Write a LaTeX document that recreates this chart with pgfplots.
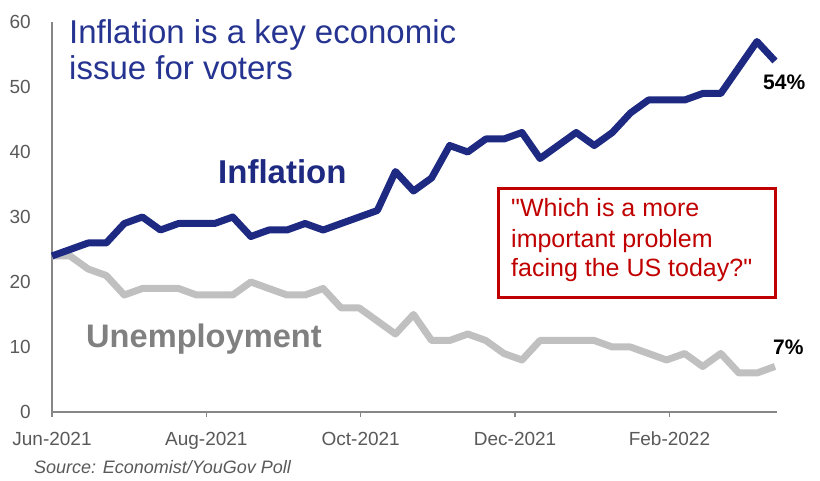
\documentclass[border=0pt]{standalone}
\usepackage{fontspec}
\setmainfont{Liberation Sans}[Ligatures=TeXOff]
\usepackage{pgfplots}
\pgfplotsset{compat=1.18}
\definecolor{navy}{RGB}{30,42,130}
\definecolor{titlenavy}{RGB}{38,52,145}
\definecolor{linegrey}{RGB}{192,192,192}
\definecolor{labelgrey}{RGB}{128,128,128}
\definecolor{tickgrey}{RGB}{89,89,89}
\definecolor{axisgrey}{RGB}{134,134,134}
\definecolor{boxred}{RGB}{192,0,0}
\begin{document}
\begin{tikzpicture}[x=1pt,y=1pt]
\path[use as bounding box] (0,0) rectangle (820,481);
\begin{axis}[
  at={(52pt,69pt)}, anchor=south west,
  scale only axis, width=725pt, height=390pt,
  xmin=0, xmax=40.11, ymin=0, ymax=60,
  axis x line=bottom, axis y line=left,
  axis line style={draw=axisgrey, line width=1.2pt, -},
  ytick={0,10,20,30,40,50,60},
  xtick={0,8.54,17.08,25.62,34.16},
  xticklabels={Jun-2021,Aug-2021,Oct-2021,Dec-2021,Feb-2022},
  tick align=outside, major tick length=5pt,
  xtick style={draw=axisgrey, line width=1.2pt},
  ytick style={draw=none},
  ticklabel style={font=\fontsize{19}{21}\selectfont, text=tickgrey},
  yticklabel style={anchor=east, inner sep=0pt, xshift=-16pt},
  xticklabel style={anchor=base, inner sep=0pt, yshift=-29pt},
  /pgf/number format/assume math mode=true,
  clip=false,
]
\addplot[draw=linegrey, line width=7pt, line join=round, line cap=butt] coordinates {
(0,24)(1,24)(2,22)(3,21)(4,18)(5,19)(6,19)(7,19)(8,18)(9,18)(10,18)(11,20)(12,19)(13,18)(14,18)(15,19)(16,16)(17,16)(18,14)(19,12)(20,15)(21,11)(22,11)(23,12)(24,11)(25,9)(26,8)(27,11)(28,11)(29,11)(30,11)(31,10)(32,10)(33,9)(34,8)(35,9)(36,7)(37,9)(38,6)(39,6)(40,7)
};
\addplot[draw=navy, line width=7pt, line join=round, line cap=butt] coordinates {
(0,24)(1,25)(2,26)(3,26)(4,29)(5,30)(6,28)(7,29)(8,29)(9,29)(10,30)(11,27)(12,28)(13,28)(14,29)(15,28)(16,29)(17,30)(18,31)(19,37)(20,34)(21,36)(22,41)(23,40)(24,42)(25,42)(26,43)(27,39)(28,41)(29,43)(30,41)(31,43)(32,46)(33,48)(34,48)(35,48)(36,49)(37,49)(38,53)(39,57)(40,54)
};
\end{axis}
% title
\node[anchor=base west, inner sep=0pt, text=titlenavy, font=\fontsize{33}{36}\selectfont] at (69,437) {Inflation is a key economic};
\node[anchor=base west, inner sep=0pt, text=titlenavy, font=\fontsize{33}{36}\selectfont] at (69,401) {issue for voters};
% series labels
\node[anchor=base west, inner sep=0pt, text=navy, font=\fontsize{33}{36}\selectfont\bfseries] at (218,297) {Inflation};
\node[anchor=base west, inner sep=0pt, text=labelgrey, font=\fontsize{32.6}{36}\selectfont\bfseries] at (86,133) {Unemployment};
% end values
\node[anchor=base west, inner sep=0pt, text=black, font=\fontsize{21}{24}\selectfont\bfseries] at (763,391) {54\%};
\node[anchor=base west, inner sep=0pt, text=black, font=\fontsize{21}{24}\selectfont\bfseries] at (773,126) {7\%};
% question box
\draw[boxred, line width=3pt] (498.2,292.8) rectangle (775.2,183.2);
\node[anchor=base west, inner sep=0pt, text=boxred, font=\fontsize{25}{30}\selectfont] at (511,264.3) {"Which is a more};
\node[anchor=base west, inner sep=0pt, text=boxred, font=\fontsize{25}{30}\selectfont] at (511,233.3) {important problem};
\node[anchor=base west, inner sep=0pt, text=boxred, font=\fontsize{25}{30}\selectfont] at (511,204.5) {facing the US today?"};
% source
\node[anchor=base west, inner sep=0pt, text=tickgrey, font=\fontsize{18}{20}\selectfont\itshape] at (34,7) {Source: Economist/YouGov Poll};
\end{tikzpicture}
\end{document}
